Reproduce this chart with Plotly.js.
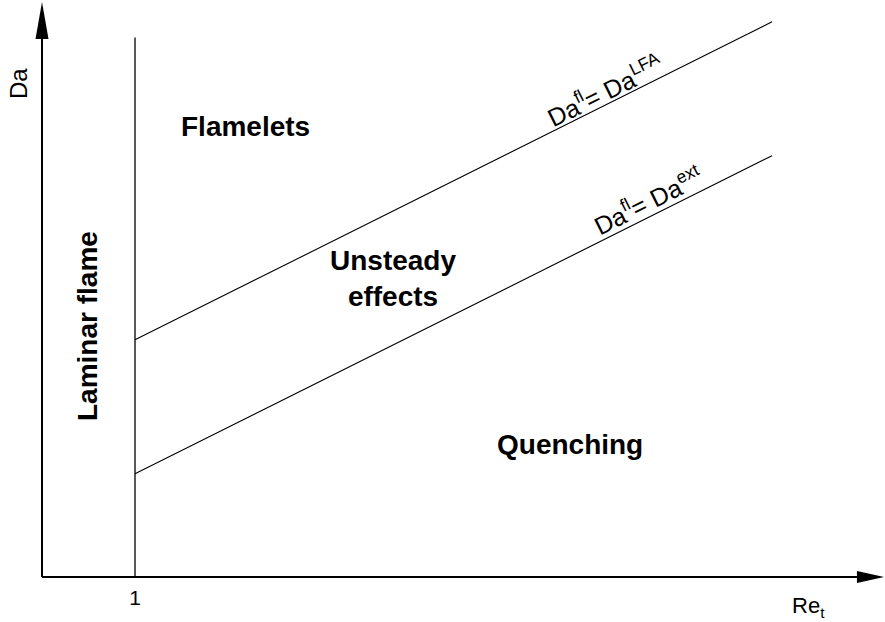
<!DOCTYPE html>
<html>
<head>
<meta charset="utf-8">
<script src="https://cdn.plot.ly/plotly-3.0.1.min.js"></script>
<style>html,body{margin:0;padding:0;background:#fff}#chart{width:885px;height:622px}</style>
</head>
<body>
<div id="chart"></div>
<script>
// ---- data (diagram units: Re_t = 1 at x = 1) ----
const reT = [1, 7.85];            // x extent of the two boundary lines
const daLFA = [2.55, 5.97];       // Da^fl = Da^LFA boundary
const daExt = [1.11, 4.53];       // Da^fl = Da^ext boundary
const laminarX = [1, 1];          // Re_t = 1 boundary
const laminarY = [0, 5.8];
const xTickVals = [1];
const xTickText = ['1'];

const regionNames = ['Flamelets', 'Unsteady<br>effects', 'Quenching'];
const regionX = [2.183, 3.774, 5.677];
const regionY = [4.849, 3.215, 1.430];

// axis extents
const xMin = -0.4516, xMax = 9.0645;
const yMin = -0.0645, yMax = 6.2043;
const yArrowTip = 6.183, yArrowBase = 5.785;
const xArrowTip = 9.055, xArrowBase = 8.763;

const FONT = 'Liberation Sans, Arial, Helvetica, sans-serif';
const line = {color: '#000', width: 1.1};

const traces = [
  {x: laminarX, y: laminarY, mode: 'lines', line: {color: '#000', width: 1.3}, hoverinfo: 'skip'},
  {x: reT, y: daLFA, mode: 'lines', line: line, hoverinfo: 'skip'},
  {x: reT, y: daExt, mode: 'lines', line: line, hoverinfo: 'skip'}
];

const slopeDeg = Math.atan((daLFA[1] - daLFA[0]) / (reT[1] - reT[0])) * 180 / Math.PI;

const annotations = [];
regionNames.forEach((t, i) => annotations.push({
  x: regionX[i], y: regionY[i], xref: 'x', yref: 'y', text: t, showarrow: false,
  font: {family: FONT, size: 28, color: '#000', weight: 'bold'}, xanchor: 'center', yanchor: 'middle'
}));
annotations.push({x: 0.4946, y: 2.699, xref: 'x', yref: 'y', text: 'Laminar flame', textangle: -90,
  showarrow: false, font: {family: FONT, size: 28, color: '#000', weight: 'bold'}});
annotations.push({x: 6.054, y: 5.237, xref: 'x', yref: 'y', text: 'Da<sup>fl</sup>= Da<sup>LFA</sup>',
  textangle: -slopeDeg, showarrow: false, font: {family: FONT, size: 25, color: '#000'}});
annotations.push({x: 6.516, y: 4.054, xref: 'x', yref: 'y', text: 'Da<sup>fl</sup>= Da<sup>ext</sup>',
  textangle: -slopeDeg, showarrow: false, font: {family: FONT, size: 25, color: '#000'}});
annotations.push({x: -0.258, y: 5.301, xref: 'x', yref: 'y', text: 'Da', textangle: -90,
  showarrow: false, font: {family: FONT, size: 24, color: '#000'}});
annotations.push({x: 8.043, y: -0.0412, xref: 'x', yref: 'paper', text: 'Re<sub>t</sub>', xanchor: 'left',
  yanchor: 'middle', showarrow: false, font: {family: FONT, size: 22, color: '#000'}});

const hw = 0.0699, hh = 0.0645;
const shapes = [
  {type: 'line', xref: 'x', yref: 'y', x0: 0, y0: 0, x1: 0, y1: yArrowBase + 0.02, line: {color: '#000', width: 2}},
  {type: 'line', xref: 'x', yref: 'y', x0: 0, y0: 0, x1: xArrowBase + 0.02, y1: 0, line: {color: '#000', width: 2}},
  {type: 'path', xref: 'x', yref: 'y', fillcolor: '#000', line: {width: 0},
   path: `M ${-hw} ${yArrowBase} L 0 ${yArrowTip} L ${hw} ${yArrowBase} Z`},
  {type: 'path', xref: 'x', yref: 'y', fillcolor: '#000', line: {width: 0},
   path: `M ${xArrowBase} ${-hh} L ${xArrowTip} 0 L ${xArrowBase} ${hh} Z`}
];

const layout = {
  width: 885, height: 622,
  margin: {l: 0, r: 0, t: 0, b: 39, pad: 0},
  paper_bgcolor: '#fff', plot_bgcolor: '#fff',
  showlegend: false,
  xaxis: {range: [xMin, xMax], showgrid: false, zeroline: false, showline: false, ticks: '',
          tickvals: xTickVals, ticktext: xTickText, tickfont: {family: FONT, size: 21, color: '#000'},
          fixedrange: true},
  yaxis: {range: [yMin, yMax], showgrid: false, zeroline: false, showline: false, ticks: '',
          showticklabels: false, fixedrange: true},
  annotations: annotations,
  shapes: shapes
};

Plotly.newPlot('chart', traces, layout, {staticPlot: true, displayModeBar: false});
</script>
</body>
</html>
